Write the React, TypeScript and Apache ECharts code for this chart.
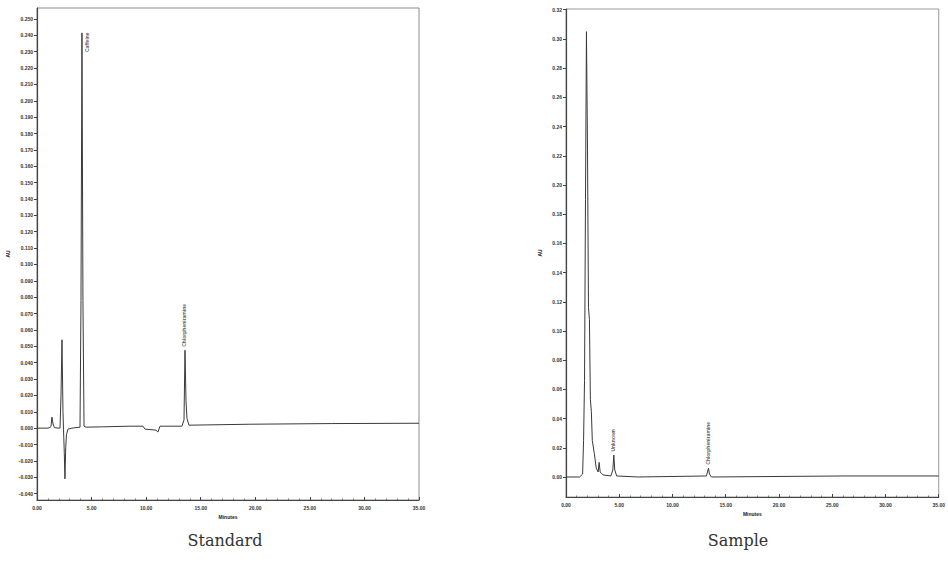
import React, { useEffect, useRef } from "react";
import * as echarts from "echarts";

// Standard chromatogram: [time (min), response (AU)]
const standardTrace: [number, number][] = [
  [0, 0.0], [1.0, 0.0], [1.2, 0.0005], [1.28, 0.001], [1.37, 0.0067], [1.47, 0.0025], [1.6, 0.0003],
  [2.0, 0.0], [2.11, 0.0], [2.2, 0.02], [2.29, 0.054], [2.38, 0.01], [2.43, -0.001], [2.5, -0.015],
  [2.56, -0.031], [2.63, -0.012], [2.7, -0.004], [2.84, -0.0006], [3.2, 0.0], [3.94, 0.0006],
  [4.03, 0.078], [4.12, 0.2415], [4.21, 0.078], [4.31, 0.0012], [4.49, 0.0006], [6.0, 0.0008],
  [8.52, 0.0012], [9.71, 0.0012], [9.89, -0.0006], [10.9, -0.0012], [11.08, -0.0024], [11.27, 0.0012],
  [13.28, 0.0012], [13.47, 0.005], [13.56, 0.0476], [13.65, 0.017], [13.74, 0.006], [13.92, 0.0018],
  [19.5, 0.0024], [27.0, 0.0028], [35.0, 0.003]
];

// Sample chromatogram: [time (min), response (AU)]
const sampleTrace: [number, number][] = [
  [0, 0.0], [1.28, 0.0], [1.56, 0.002], [1.65, 0.025], [1.74, 0.066], [1.83, 0.19], [1.92, 0.305],
  [2.02, 0.224], [2.11, 0.116], [2.2, 0.108], [2.29, 0.053], [2.38, 0.045], [2.47, 0.025],
  [2.66, 0.016], [2.84, 0.006], [3.02, 0.0034], [3.11, 0.01], [3.21, 0.0034], [3.48, 0.0014],
  [4.21, 0.0007], [4.4, 0.0048], [4.49, 0.015], [4.58, 0.0048], [4.76, 0.0007], [6.78, 0.0],
  [13.19, 0.0007], [13.28, 0.0034], [13.38, 0.006], [13.47, 0.002], [13.65, 0.0], [26.0, 0.0007],
  [35.0, 0.0007]
];

// Peak annotations: [time, apex response, name]
const standardPeaks: [number, number, string][] = [
  [4.12, 0.2415, "Caffeine"],
  [13.56, 0.0476, "Chlorpheniramine"]
];
const samplePeaks: [number, number, string][] = [
  [4.49, 0.015, "Unknown"],
  [13.38, 0.006, "Chlorpheniramine"]
];

const standardYTicks = [
  -0.04, -0.03, -0.02, -0.01, 0, 0.01, 0.02, 0.03, 0.04, 0.05, 0.06, 0.07, 0.08, 0.09, 0.1,
  0.11, 0.12, 0.13, 0.14, 0.15, 0.16, 0.17, 0.18, 0.19, 0.2, 0.21, 0.22, 0.23, 0.24, 0.25
];
const sampleYTicks = [
  0, 0.02, 0.04, 0.06, 0.08, 0.1, 0.12, 0.14, 0.16, 0.18, 0.2, 0.22, 0.24, 0.26, 0.28, 0.3, 0.32
];
const captions = ["Standard", "Sample"];

const axisColor = "#444";
const traceColor = "#3a3a3a";

function xAxisFor(gridIndex: number) {
  return {
    type: "value",
    gridIndex,
    min: 0,
    max: 35,
    interval: 5,
    name: "Minutes",
    nameLocation: "middle",
    nameGap: 14,
    nameTextStyle: { fontSize: 5, fontWeight: "bold", color: "#222" },
    axisLine: { show: true, onZero: false, lineStyle: { color: axisColor, width: 1.2 } },
    axisTick: { show: true, inside: true, length: 3, lineStyle: { color: axisColor } },
    minorTick: { show: true, splitNumber: 5, length: 1.5, lineStyle: { color: "#777" } },
    axisLabel: {
      fontSize: 5,
      color: "#333",
      fontWeight: "bold",
      margin: 5,
      formatter: (v: number) => v.toFixed(2)
    },
    splitLine: { show: false }
  };
}

function yAxisFor(gridIndex: number, min: number, max: number, ticks: number[], digits: number, gap: number) {
  return {
    type: "value",
    gridIndex,
    min,
    max,
    name: "AU",
    nameLocation: "middle",
    nameGap: gap,
    nameTextStyle: { fontSize: 5, fontWeight: "bold", color: "#222" },
    axisLine: { show: true, onZero: false, lineStyle: { color: axisColor, width: 1.2 } },
    axisTick: { show: true, length: 3, customValues: ticks, lineStyle: { color: axisColor } },
    axisLabel: {
      fontSize: 5,
      color: "#333",
      fontWeight: "bold",
      margin: 4,
      customValues: ticks,
      formatter: (v: number) => (Math.abs(v) < 1e-9 ? 0 : v).toFixed(digits)
    },
    splitLine: { show: false }
  };
}

function peakLabels(peaks: [number, number, string][], idx: number, firstBeside: boolean) {
  return {
    type: "scatter",
    xAxisIndex: idx,
    yAxisIndex: idx,
    symbolSize: 1,
    itemStyle: { color: "rgba(0,0,0,0)" },
    silent: true,
    data: peaks.map((p, i) => {
      const beside = firstBeside && i === 0;
      return {
        value: [p[0], p[1]],
        name: p[2],
        label: beside
          ? { show: true, position: [6, 0], rotate: 90, align: "right", verticalAlign: "middle" }
          : { show: true, position: [0, -3], rotate: 90, align: "left", verticalAlign: "middle" }
      };
    }),
    label: {
      show: true,
      formatter: (p: any) => p.name,
      fontSize: 5,
      color: "#333",
      fontWeight: "bold"
    }
  };
}

export default function App() {
  const ref = useRef<HTMLDivElement>(null);

  useEffect(() => {
    if (!ref.current) return;
    const chart = echarts.init(ref.current, null, { renderer: "svg" });
    chart.setOption({
      animation: false,
      backgroundColor: "#ffffff",
      grid: [
        { left: 37, top: 8, width: 382, height: 492, show: true, borderColor: "#8a8a8a", borderWidth: 1, containLabel: false },
        { left: 566, top: 9, width: 381, height: 488, show: true, borderColor: "#9a9a9a", borderWidth: 1, containLabel: false }
      ],
      xAxis: [xAxisFor(0), xAxisFor(1)],
      yAxis: [
        yAxisFor(0, -0.0439, 0.2567, standardYTicks, 3, 27),
        yAxisFor(1, -0.0137, 0.3205, sampleYTicks, 2, 24)
      ],
      series: [
        {
          type: "line",
          xAxisIndex: 0,
          yAxisIndex: 0,
          data: standardTrace,
          showSymbol: false,
          lineStyle: { color: traceColor, width: 1 },
          silent: true
        },
        {
          type: "line",
          xAxisIndex: 1,
          yAxisIndex: 1,
          data: sampleTrace,
          showSymbol: false,
          lineStyle: { color: traceColor, width: 1 },
          silent: true
        },
        peakLabels(standardPeaks, 0, true),
        peakLabels(samplePeaks, 1, false)
      ],
      graphic: [
        {
          type: "text",
          x: 225,
          y: 540,
          style: {
            text: captions[0], fontSize: 16, fontFamily: "DejaVu Serif", fill: "#333",
            textAlign: "center", textVerticalAlign: "middle"
          }
        },
        {
          type: "text",
          x: 738,
          y: 540,
          style: {
            text: captions[1], fontSize: 16, fontFamily: "DejaVu Serif", fill: "#333",
            textAlign: "center", textVerticalAlign: "middle"
          }
        }
      ]
    });
    return () => chart.dispose();
  }, []);

  return (
    <div
      ref={ref}
      style={{ position: "absolute", left: 0, top: 0, width: 948, height: 565, background: "#fff" }}
    />
  );
}
